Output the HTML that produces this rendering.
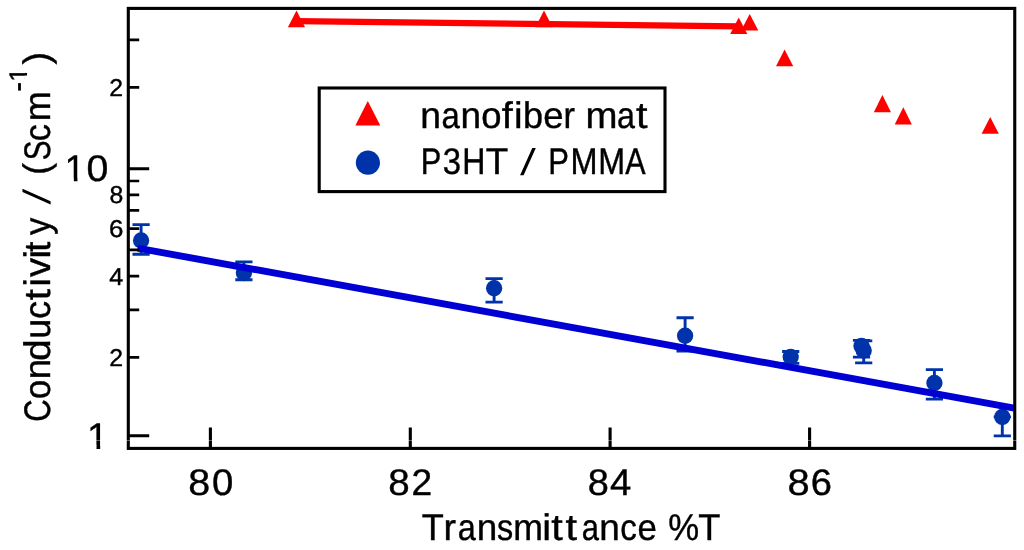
<!DOCTYPE html>
<html><head><meta charset="utf-8"><title>Conductivity vs Transmittance</title>
<style>html,body{margin:0;padding:0;background:#fff;overflow:hidden}svg{display:block;will-change:transform}text{font-family:"Liberation Sans",sans-serif;fill:#000;stroke:#000;stroke-width:0.4px;text-rendering:geometricPrecision}</style>
</head><body>
<svg width="1024" height="550" viewBox="0 0 1024 550">
<rect x="0" y="0" width="1024" height="550" fill="#fff"/>
<defs><clipPath id="c1"><polygon points="8,-75 35,-75 35,2 25.0,2 25.0,-9 8,-9"/></clipPath></defs>
<g id="red">
<line x1="296.6" y1="21.2" x2="738.75" y2="26.3" stroke="#ff0000" stroke-width="6.3"/>
<polygon points="296.50,10.60 305.10,27.25 287.90,27.25" fill="#ff0000"/>
<polygon points="544.00,10.60 552.60,27.25 535.40,27.25" fill="#ff0000"/>
<polygon points="738.75,17.50 747.35,34.10 730.15,34.10" fill="#ff0000"/>
<polygon points="749.70,14.00 758.30,30.60 741.10,30.60" fill="#ff0000"/>
<polygon points="784.60,49.60 793.20,66.25 776.00,66.25" fill="#ff0000"/>
<polygon points="882.40,95.10 891.00,112.25 873.80,112.25" fill="#ff0000"/>
<polygon points="903.30,107.25 911.90,124.40 894.70,124.40" fill="#ff0000"/>
<polygon points="990.20,117.10 998.80,133.80 981.60,133.80" fill="#ff0000"/>
</g>
<g id="blue">
<path d="M141.10 224.60V254.25M132.50 224.60H149.70M132.50 254.25H149.70" stroke="#0033aa" stroke-width="2.9" fill="none"/>
<circle cx="141.10" cy="240.50" r="8.15" fill="#0033aa"/>
<path d="M243.90 261.90V279.75M235.30 261.90H252.50M235.30 279.75H252.50" stroke="#0033aa" stroke-width="2.9" fill="none"/>
<circle cx="243.90" cy="273.10" r="8.15" fill="#0033aa"/>
<path d="M494.10 278.60V302.10M485.50 278.60H502.70M485.50 302.10H502.70" stroke="#0033aa" stroke-width="2.9" fill="none"/>
<circle cx="494.10" cy="288.25" r="8.15" fill="#0033aa"/>
<path d="M685.10 317.70V351.00M676.50 317.70H693.70M676.50 351.00H693.70" stroke="#0033aa" stroke-width="2.9" fill="none"/>
<circle cx="685.10" cy="335.75" r="8.15" fill="#0033aa"/>
<path d="M790.70 351.50V363.40M782.10 351.50H799.30M782.10 363.40H799.30" stroke="#0033aa" stroke-width="2.9" fill="none"/>
<circle cx="790.70" cy="356.90" r="8.15" fill="#0033aa"/>
<path d="M861.50 340.40V357.10M852.90 340.40H870.10M852.90 357.10H870.10" stroke="#0033aa" stroke-width="2.9" fill="none"/>
<circle cx="861.50" cy="346.00" r="8.15" fill="#0033aa"/>
<path d="M863.70 340.90V362.90M855.10 340.90H872.30M855.10 362.90H872.30" stroke="#0033aa" stroke-width="2.9" fill="none"/>
<circle cx="863.70" cy="350.60" r="8.15" fill="#0033aa"/>
<path d="M934.40 369.60V399.10M925.80 369.60H943.00M925.80 399.10H943.00" stroke="#0033aa" stroke-width="2.9" fill="none"/>
<circle cx="934.40" cy="383.00" r="8.15" fill="#0033aa"/>
<path d="M1002.30 416.90V435.90M993.70 416.90H1010.90M993.70 435.90H1010.90" stroke="#0033aa" stroke-width="2.9" fill="none"/>
<circle cx="1002.30" cy="416.90" r="8.15" fill="#0033aa"/>
<line x1="137.6" y1="248.1" x2="1014.2" y2="408.1" stroke="#0000d4" stroke-width="6.9"/>
</g>
<g id="axes" stroke="#000" fill="none">
<rect x="128.3" y="8.4" width="886.45" height="440.00" stroke-width="3.1"/>
<path d="M128.3 39.83H139.2M128.3 87.37H139.2M128.3 181.00H139.2M128.3 194.82H139.2M128.3 210.47H139.2M128.3 228.55H139.2M128.3 249.93H139.2M128.3 276.09H139.2M128.3 309.83H139.2M128.3 357.37H139.2" stroke-width="2.7"/>
<path d="M128.3 168.7H149.2M128.3 435.8H149.2" stroke-width="3"/>
<path d="M210.4 427.4V448.4M410.3 427.4V448.4M610.1 427.4V448.4M809.6 427.4V448.4" stroke-width="3.1"/>
</g>
<g id="legend">
<rect x="319.2" y="88.0" width="345.8" height="103.6" fill="#fff" stroke="#000" stroke-width="3.1"/>
<polygon points="367.80,100.90 380.25,125.40 355.35,125.40" fill="#ff0000"/>
<circle cx="367.9" cy="162.7" r="12.1" fill="#0033aa"/>
<text transform="translate(420.27,128.40) scale(1.0084,1)" font-size="37">n</text><text transform="translate(441.60,128.40) scale(0.8882,1)" font-size="37">a</text><text transform="translate(460.55,128.40) scale(0.9989,1)" font-size="37">n</text><text transform="translate(481.27,128.40) scale(0.9845,1)" font-size="37">o</text><text transform="translate(501.64,128.40) scale(1.0703,1)" font-size="37">f</text><text transform="translate(514.11,128.40) scale(1.0455,1)" font-size="37">i</text><text transform="translate(522.98,128.40) scale(0.9736,1)" font-size="37">b</text><text transform="translate(543.35,128.40) scale(0.9849,1)" font-size="37">e</text><text transform="translate(563.52,128.40) scale(0.9297,1)" font-size="37">r</text><text transform="translate(585.55,128.40) scale(1.0376,1)" font-size="37">m</text><text transform="translate(616.93,128.40) scale(0.8707,1)" font-size="37">a</text><text transform="translate(636.08,128.40) scale(1.1200,1)" font-size="37">t</text>
<text transform="translate(420.67,173.90) scale(0.8328,1)" font-size="37">P</text><text transform="translate(442.85,173.90) scale(0.8893,1)" font-size="37">3</text><text transform="translate(462.27,173.90) scale(0.8661,1)" font-size="37">H</text><text transform="translate(485.77,173.90) scale(0.9942,1)" font-size="37">T</text><text transform="translate(548.26,173.90) scale(0.8379,1)" font-size="37">P</text><text transform="translate(570.54,173.90) scale(0.8767,1)" font-size="37">M</text><text transform="translate(598.15,173.90) scale(0.8727,1)" font-size="37">M</text><text transform="translate(625.34,173.90) scale(0.8233,1)" font-size="37">A</text>
<polygon points="520.1,175.2 523.6,175.2 535.8,147.9 532.3,147.9" fill="#000"/>
</g>
<g id="ticklabels">
<text transform="translate(188.19,495.25) scale(1.0656,1)" font-size="37">8</text><text transform="translate(212.00,495.25) scale(1.0347,1)" font-size="37">0</text><text transform="translate(388.32,495.25) scale(1.0425,1)" font-size="37">8</text><text transform="translate(411.53,495.25) scale(1.0026,1)" font-size="37">2</text><text transform="translate(587.75,495.25) scale(1.0252,1)" font-size="37">8</text><text transform="translate(609.92,495.25) scale(1.0352,1)" font-size="37">4</text><text transform="translate(787.57,495.25) scale(1.0771,1)" font-size="37">8</text><text transform="translate(810.76,495.25) scale(1.0309,1)" font-size="37">6</text>
<text transform="translate(109.35,95.99) scale(1.0166,1)" font-size="24.4">2</text>
<text transform="translate(109.52,203.43) scale(1.0175,1)" font-size="24.4">8</text>
<text transform="translate(108.98,237.16) scale(1.0614,1)" font-size="24.4">6</text>
<text transform="translate(109.22,284.71) scale(1.0329,1)" font-size="24.4">4</text>
<text transform="translate(109.35,365.99) scale(1.0166,1)" font-size="24.4">2</text>
<g transform="translate(64.49,181.45) scale(0.3755,0.3700)" clip-path="url(#c1)"><text font-size="100" style="stroke-width:1.08px">1</text></g>
<text transform="translate(86.56,181.45) scale(1.0629,1)" font-size="37">0</text>
<g transform="translate(86.89,448.60) scale(0.3858,0.3700)" clip-path="url(#c1)"><text font-size="100" style="stroke-width:1.08px">1</text></g>
</g>
<g id="xl"><text transform="translate(421.69,540.20) scale(0.9751,1)" font-size="37">T</text><text transform="translate(443.50,540.20) scale(1.0162,1)" font-size="37">r</text><text transform="translate(457.72,540.20) scale(0.8765,1)" font-size="37">a</text><text transform="translate(476.65,540.20) scale(0.9957,1)" font-size="37">n</text><text transform="translate(497.00,540.20) scale(0.8740,1)" font-size="37">s</text><text transform="translate(513.23,540.20) scale(0.9643,1)" font-size="37">m</text><text transform="translate(542.34,540.20) scale(1.0763,1)" font-size="37">i</text><text transform="translate(551.28,540.20) scale(1.1200,1)" font-size="37">t</text><text transform="translate(565.53,540.20) scale(1.1200,1)" font-size="37">t</text><text transform="translate(581.79,540.20) scale(0.8356,1)" font-size="37">a</text><text transform="translate(599.25,540.20) scale(0.9989,1)" font-size="37">n</text><text transform="translate(620.29,540.20) scale(0.8964,1)" font-size="37">c</text><text transform="translate(637.62,540.20) scale(0.9388,1)" font-size="37">e</text><text transform="translate(668.26,540.20) scale(0.9385,1)" font-size="37">%</text><text transform="translate(698.29,540.20) scale(0.9799,1)" font-size="37">T</text></g>
<g id="yl" transform="translate(50.2,0) rotate(-90)">
<text transform="translate(-421.83,0.00) scale(0.8386,1)" font-size="37">C</text>
<text transform="translate(-398.95,0.00) scale(0.9302,1)" font-size="37">o</text>
<text transform="translate(-379.35,0.00) scale(0.9957,1)" font-size="37">n</text>
<text transform="translate(-361.03,0.00) scale(1.0517,1)" font-size="37">d</text>
<text transform="translate(-338.83,0.00) scale(0.9702,1)" font-size="37">u</text>
<text transform="translate(-319.04,0.00) scale(0.9779,1)" font-size="37">c</text>
<text transform="translate(-300.62,0.00) scale(1.1200,1)" font-size="37">t</text>
<text transform="translate(-286.41,0.00) scale(1.0148,1)" font-size="37">i</text>
<text transform="translate(-277.03,0.00) scale(1.0303,1)" font-size="37">v</text>
<text transform="translate(-258.86,0.00) scale(1.0763,1)" font-size="37">i</text>
<text transform="translate(-251.80,0.00) scale(0.9790,1)" font-size="37">t</text>
<text transform="translate(-235.08,0.00) scale(0.9407,1)" font-size="37">y</text>
<text transform="translate(-174.70,-1.40) scale(0.9582,1)" font-size="37">(</text>
<text transform="translate(-160.16,0.00) scale(0.8000,1)" font-size="37">S</text>
<text transform="translate(-141.20,0.00) scale(0.9246,1)" font-size="37">c</text>
<text transform="translate(-121.14,0.00) scale(0.9740,1)" font-size="37">m</text>
<text transform="translate(-64.62,-1.40) scale(1.0194,1)" font-size="37">)</text>
<polygon points="-204.4,0.4 -201.2,0.4 -188.75,-27.7 -191.95,-27.7" fill="#000"/>
<rect x="-90.6" y="-32.1" width="7.5" height="2.8"/>
<g transform="translate(-81.89,-23.30) scale(0.2586,0.2540)" clip-path="url(#c1)"><text font-size="100" style="stroke-width:1.57px">1</text></g>
</g>
<rect x="0" y="440.3" width="1024" height="0.7" fill="#fff" opacity="0.55"/>
</svg></body></html>
